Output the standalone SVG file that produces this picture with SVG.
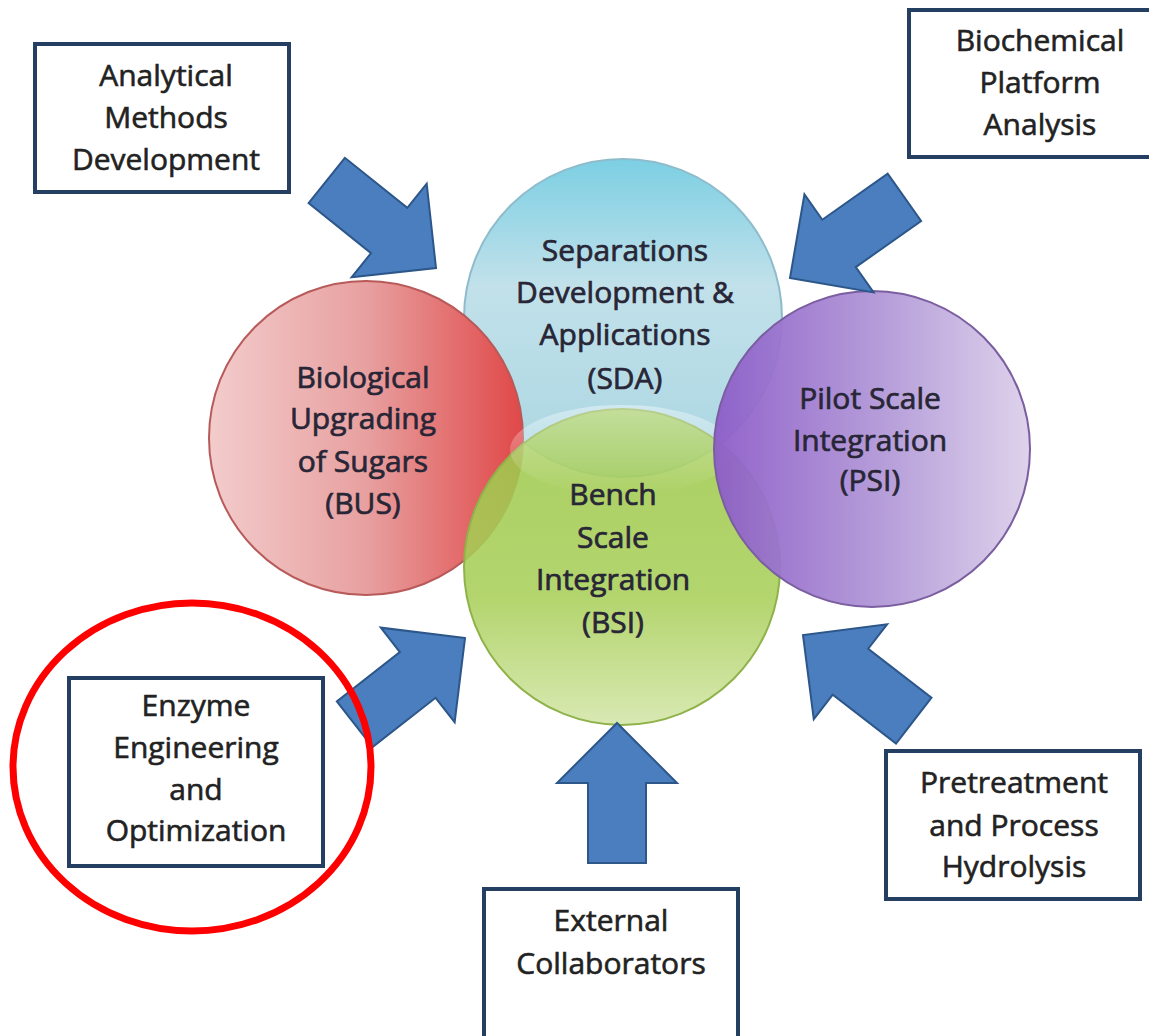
<svg xmlns="http://www.w3.org/2000/svg" width="1149" height="1036" viewBox="0 0 1149 1036">
<style>
.box{fill:#ffffff;stroke:#253f62;stroke-width:4}
.bt{font-family:"Open Sans","Liberation Sans",sans-serif;font-size:30px;fill:#222222;stroke:#222222;stroke-width:0.6;text-anchor:middle}
.ct{font-family:"Open Sans","Liberation Sans",sans-serif;font-size:30px;fill:#282636;stroke:#282636;stroke-width:0.7;text-anchor:middle}
.arrow{fill:#4a7ebf;stroke:#2d5689;stroke-width:2;stroke-linejoin:miter}
</style>
<defs>
<linearGradient id="gSDA" x1="0" y1="0" x2="0" y2="1">
<stop offset="0" stop-color="#7ccfe3"/><stop offset="0.4" stop-color="#c2e1ea"/><stop offset="1" stop-color="#a9d6e2"/>
</linearGradient>
<linearGradient id="gBUS" x1="0" y1="0" x2="1" y2="0">
<stop offset="0" stop-color="#f3cccc"/><stop offset="0.5" stop-color="#e8a0a0"/><stop offset="1" stop-color="#e04848"/>
</linearGradient>
<linearGradient id="gBSI" x1="0" y1="0" x2="0" y2="1">
<stop offset="0" stop-color="#9cc84a"/><stop offset="0.6" stop-color="#a9cf5a"/><stop offset="1" stop-color="#d3e6a8"/>
</linearGradient>
<linearGradient id="gPSI" x1="0" y1="0" x2="1" y2="0">
<stop offset="0" stop-color="#8c5cc8"/><stop offset="0.55" stop-color="#b39ad8"/><stop offset="1" stop-color="#dcd0ea"/>
</linearGradient>
<linearGradient id="gloss" x1="0" y1="0" x2="0" y2="1">
<stop offset="0" stop-color="#ffffff" stop-opacity="0.4"/><stop offset="1" stop-color="#ffffff" stop-opacity="0"/>
</linearGradient>
<polygon id="arr" points="0,0 -60,-60 -60,-29 -140,-29 -140,29 -60,29 -60,60"/>
</defs>
<rect width="1149" height="1036" fill="#ffffff"/>

<g id="node-sda">
<circle cx="623" cy="318" r="159" fill="url(#gSDA)" stroke="#8fbccb" stroke-width="2"/>
<text class="ct" x="625" y="261">Separations</text>
<text class="ct" x="625" y="303">Development &amp;</text>
<text class="ct" x="625" y="345">Applications</text>
<text class="ct" x="625" y="389">(SDA)</text>
</g>

<g id="node-bus">
<circle cx="366" cy="438" r="157" fill="url(#gBUS)" stroke="#b85a5a" stroke-width="2"/>
<text class="ct" x="363" y="388">Biological</text>
<text class="ct" x="363" y="429">Upgrading</text>
<text class="ct" x="363" y="472">of Sugars</text>
<text class="ct" x="363" y="514">(BUS)</text>
</g>

<g id="node-bsi">
<circle cx="622" cy="567" r="158" fill="url(#gBSI)" fill-opacity="0.88" stroke="#8fb24a" stroke-width="2"/>
<ellipse cx="622" cy="450" rx="112" ry="45" fill="url(#gloss)"/>
<text class="ct" x="613" y="505">Bench</text>
<text class="ct" x="613" y="548">Scale</text>
<text class="ct" x="613" y="590">Integration</text>
<text class="ct" x="613" y="633">(BSI)</text>
</g>

<g id="node-psi">
<circle cx="872" cy="449" r="158" fill="url(#gPSI)" fill-opacity="0.95" stroke="#7b5ea0" stroke-width="2"/>
<text class="ct" x="870" y="409">Pilot Scale</text>
<text class="ct" x="870" y="451">Integration</text>
<text class="ct" x="870" y="491">(PSI)</text>
</g>

<g id="node-analytical">
<rect class="box" x="35" y="44" width="254" height="148"/>
<text class="bt" x="166" y="86">Analytical</text>
<text class="bt" x="166" y="128">Methods</text>
<text class="bt" x="166" y="170">Development</text>
</g>

<g id="node-biochemical">
<rect class="box" x="909" y="10" width="245" height="147"/>
<text class="bt" x="1040" y="51">Biochemical</text>
<text class="bt" x="1040" y="93">Platform</text>
<text class="bt" x="1040" y="135">Analysis</text>
</g>

<g id="node-enzyme">
<rect class="box" x="69" y="678" width="254" height="188"/>
<text class="bt" x="196" y="716">Enzyme</text>
<text class="bt" x="196" y="758">Engineering</text>
<text class="bt" x="196" y="800">and</text>
<text class="bt" x="196" y="841">Optimization</text>
</g>

<g id="node-external">
<rect class="box" x="484" y="889" width="254" height="160"/>
<text class="bt" x="611" y="931">External</text>
<text class="bt" x="611" y="974">Collaborators</text>
</g>

<g id="node-pretreatment">
<rect class="box" x="886" y="751" width="254" height="148"/>
<text class="bt" x="1014" y="793">Pretreatment</text>
<text class="bt" x="1014" y="836">and Process</text>
<text class="bt" x="1014" y="877">Hydrolysis</text>
</g>

<g id="connectors">
<use href="#arr" class="arrow" transform="translate(436,268) rotate(38.7)"/>
<use href="#arr" class="arrow" transform="translate(790,278) rotate(144.8)"/>
<use href="#arr" class="arrow" transform="translate(465,638) rotate(-38)"/>
<use href="#arr" class="arrow" transform="translate(617,723) rotate(-90)"/>
<use href="#arr" class="arrow" transform="translate(803,635) rotate(-142.3)"/>
</g>

<g id="highlight">
<ellipse cx="192" cy="767" rx="179" ry="164" fill="none" stroke="#ff0000" stroke-width="7"/>
</g>
</svg>
